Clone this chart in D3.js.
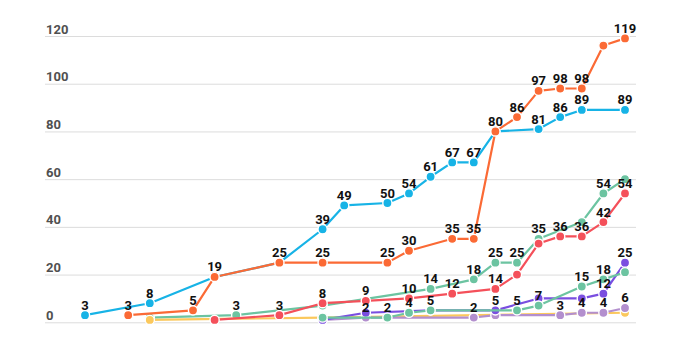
<!DOCTYPE html>
<html>
<head>
<meta charset="utf-8">
<script src="https://cdn.jsdelivr.net/npm/d3@7"></script>
<style>
  html, body { margin: 0; padding: 0; background: #fff; }
  svg { display: block; }
  text { font-family: Roboto, "Noto Sans", Arial, sans-serif; }
</style>
</head>
<body>
<svg id="chart" width="685" height="345"></svg>
<script>
// ---- data (day index along the x axis, cumulative counts) ----
const yTicks = [0, 20, 40, 60, 80, 100, 120];

const greenADays   = [3, 7, 11, 16, 18, 19, 20, 21, 23, 24, 25];
const greenAValues = [2, 3, 7, 14, 18, 25, 25, 35, 42, 54, 60];
const greenALabels = [0, 1, 0, 1, 1, 1, 1, 1, 0, 1, 0];

const yellowDays   = [3, 11, 25];
const yellowValues = [1, 2, 4];
const yellowLabels = [0, 0, 0];

const lavenderDays   = [11, 13, 18, 19, 22, 23, 24, 25];
const lavenderValues = [1, 2, 2, 3, 3, 4, 4, 6];
const lavenderLabels = [0, 1, 1, 0, 1, 1, 1, 1];

const purpleDays   = [11, 13, 16, 19, 21, 23, 24, 25];
const purpleValues = [1, 4, 5, 5, 10, 10, 12, 25];
const purpleLabels = [0, 0, 0, 1, 0, 0, 1, 1];

const greenBDays   = [11, 14, 15, 16, 20, 21, 23, 24, 25];
const greenBValues = [2, 2, 4, 5, 5, 7, 15, 18, 21];
const greenBLabels = [0, 1, 1, 1, 1, 1, 1, 1, 0];

const redDays   = [6, 9, 11, 13, 15, 17, 19, 20, 21, 22, 23, 24, 25];
const redValues = [1, 3, 8, 9, 10, 12, 14, 20, 33, 36, 36, 42, 54];
const redLabels = [0, 1, 1, 1, 1, 1, 1, 0, 0, 1, 1, 1, 1];

const blueDays   = [0, 3, 6, 9, 11, 12, 14, 15, 16, 17, 18, 19, 21, 22, 23, 25];
const blueValues = [3, 8, 19, 25, 39, 49, 50, 54, 61, 67, 67, 80, 81, 86, 89, 89];
const blueLabels = [1, 1, 0, 0, 1, 1, 1, 1, 1, 1, 1, 0, 1, 1, 1, 1];

const orangeDays   = [2, 5, 6, 9, 11, 14, 15, 17, 18, 19, 20, 21, 22, 23, 24, 25];
const orangeValues = [3, 5, 19, 25, 25, 25, 30, 35, 35, 80, 86, 97, 98, 98, 116, 119];
const orangeLabels = [1, 1, 1, 1, 1, 1, 1, 1, 1, 1, 1, 1, 1, 1, 0, 1];

// drawing order: bottom to top
const seriesList = [
  { days: greenADays,   values: greenAValues,   labels: greenALabels,   color: "#6cc4a1" },
  { days: yellowDays,   values: yellowValues,   labels: yellowLabels,   color: "#fbc85c" },
  { days: lavenderDays, values: lavenderValues, labels: lavenderLabels, color: "#b38fce" },
  { days: purpleDays,   values: purpleValues,   labels: purpleLabels,   color: "#7a4ee0" },
  { days: greenBDays,   values: greenBValues,   labels: greenBLabels,   color: "#6cc4a1" },
  { days: redDays,      values: redValues,      labels: redLabels,      color: "#f4505a" },
  { days: blueDays,     values: blueValues,     labels: blueLabels,     color: "#17b3e6" },
  { days: orangeDays,   values: orangeValues,   labels: orangeLabels,   color: "#fb6a35" }
];

// ---- layout ----
const svg = d3.select("#chart");
const gridLeft = 45, gridRight = 636;
const x = d3.scaleLinear().domain([0, 25]).range([85, 625]);
const y = d3.scaleLinear().domain([0, 120]).range([322.3, 36]);

// grid + y labels
const yAxis = d3.axisLeft(y)
  .tickValues(yTicks)
  .tickSize(-(gridRight - gridLeft))
  .tickFormat(d3.format("d"));
const gAxis = svg.append("g")
  .attr("transform", `translate(${gridLeft},0)`)
  .call(yAxis);
gAxis.select(".domain").remove();
gAxis.selectAll(".tick line").attr("stroke", "#dcdcdc").attr("stroke-width", 1);
gAxis.selectAll(".tick text")
  .attr("x", 1)
  .attr("dy", -3)
  .attr("text-anchor", "start")
  .attr("fill", "#505050")
  .attr("font-size", 13)
  .attr("font-weight", 700);

const line = d3.line().x(d => x(d.day)).y(d => y(d.value));

const gSeries = svg.append("g");
const allLabels = [];
seriesList.forEach(s => {
  const pts = s.days.map((d, i) => ({ day: d, value: s.values[i], label: s.labels[i] }));
  const g = gSeries.append("g");
  g.append("path")
    .datum(pts)
    .attr("d", line)
    .attr("fill", "none")
    .attr("stroke", s.color)
    .attr("stroke-width", 2.2)
    .attr("stroke-linejoin", "round");
  g.selectAll("circle")
    .data(pts)
    .join("circle")
    .attr("cx", d => x(d.day))
    .attr("cy", d => y(d.value))
    .attr("r", 4.6)
    .attr("fill", s.color)
    .attr("stroke", "#fff")
    .attr("stroke-width", 1.4);
  pts.filter(p => p.label).forEach(p => allLabels.push(p));
});

svg.append("g")
  .selectAll("text")
  .data(allLabels)
  .join("text")
  .attr("x", d => x(d.day))
  .attr("y", d => y(d.value) - 5.5)
  .attr("text-anchor", "middle")
  .attr("font-size", 13)
  .attr("font-weight", 700)
  .attr("fill", "#111")
  .text(d => d.value);
</script>
</body>
</html>
